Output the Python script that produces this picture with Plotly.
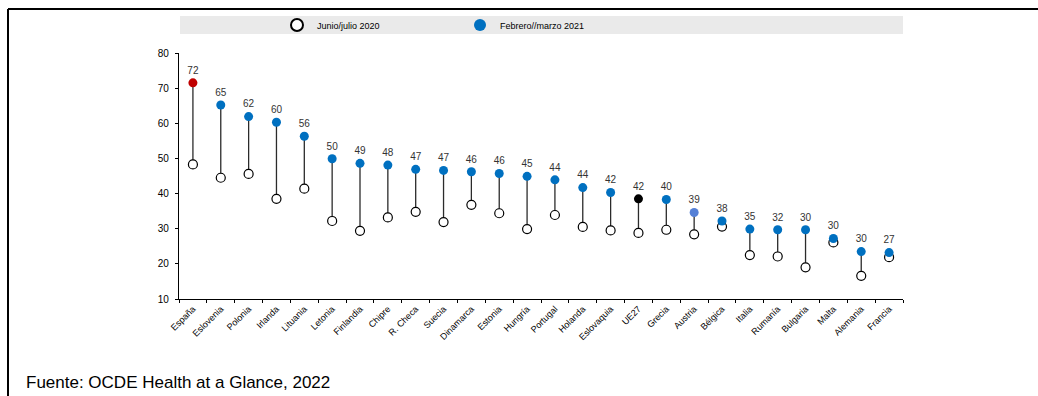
import plotly.graph_objects as go

countries = ["España", "Eslovenia", "Polonia", "Irlanda", "Lituania", "Letonia", "Finlandia",
             "Chipre", "R. Checa", "Suecia", "Dinamarca", "Estonia", "Hungría", "Portugal",
             "Holanda", "Eslovaquia", "UE27", "Grecia", "Austria", "Bélgica", "Italia",
             "Rumanía", "Bulgaria", "Malta", "Alemania", "Francia"]
jun_jul_2020 = [48.3, 44.5, 45.6, 38.5, 41.4, 32.2, 29.4, 33.2, 34.8, 31.9, 36.8, 34.4, 29.9,
                33.9, 30.5, 29.5, 28.8, 29.7, 28.4, 30.6, 22.5, 22.1, 19.0, 26.1, 16.6, 21.9]
feb_mar_2021 = [71.5, 65.2, 61.9, 60.3, 56.3, 49.9, 48.6, 48.1, 46.9, 46.6, 46.2, 45.7, 44.9,
                43.9, 41.7, 40.3, 38.5, 38.3, 34.6, 32.2, 29.9, 29.7, 29.7, 27.2, 23.5, 23.2]
value_labels = ["72", "65", "62", "60", "56", "50", "49", "48", "47", "47", "46", "46", "45",
                "44", "44", "42", "42", "40", "39", "38", "35", "32", "30", "30", "30", "27"]
y_ticks = [10, 20, 30, 40, 50, 60, 70, 80]
source_text = "Fuente: OCDE Health at a Glance, 2022"

BLUE = "#0070C0"
highlight = {"España": "#C00000", "UE27": "#000000", "Austria": "#5580D6"}
dot_colors = [highlight.get(c, BLUE) for c in countries]

FONT = "Liberation Sans Narrow, Arial Narrow, Liberation Sans, Arial, sans-serif"

# target geometry in page pixels (body margin removed in the page)
W, H = 1038, 396
L, R, T, B = 179, 903, 53, 299

def px_x(x):
    return (x - L) / (R - L)

def px_y(y):
    return (B - y) / (B - T)

def cont_y(y):
    return 1 - y / H

# connector lines
lx, ly = [], []
for c, a, b in zip(countries, jun_jul_2020, feb_mar_2021):
    lx += [c, c, None]
    ly += [a, b, None]

fig = go.Figure()
fig.add_trace(go.Scatter(x=lx, y=ly, mode="lines", line=dict(color="#2b2b2b", width=1.3),
                         showlegend=False, hoverinfo="skip"))
fig.add_trace(go.Scatter(x=countries, y=jun_jul_2020, mode="markers", name="Junio/julio 2020",
                         marker=dict(size=9, color="white", line=dict(color="black", width=1.2)),
                         showlegend=False))
fig.add_trace(go.Scatter(x=countries, y=feb_mar_2021, mode="markers+text", name="Febrero//marzo 2021",
                         marker=dict(size=9, color=dot_colors, line=dict(width=0)),
                         text=value_labels, textposition="top center",
                         textfont=dict(family=FONT, size=10, color="#333333"),
                         showlegend=False))
# legend entries
fig.add_trace(go.Scatter(x=[None], y=[None], mode="markers", name="Junio/julio 2020",
                         marker=dict(size=9, color="white", line=dict(color="black", width=1.2))))
fig.add_trace(go.Scatter(x=[None], y=[None], mode="markers", name="Febrero//marzo 2021",
                         marker=dict(size=9, color=BLUE, line=dict(width=0))))

fig.update_layout(
    width=W, height=H,
    margin=dict(l=L, r=W - R, t=T, b=H - B, pad=0, autoexpand=False),
    paper_bgcolor="white", plot_bgcolor="white",
    font=dict(family=FONT, size=10, color="black"),
    showlegend=True,
    legend=dict(orientation="h", x=px_x(277), xanchor="left",
                yref="container", y=cont_y(25), yanchor="middle",
                bgcolor="rgba(0,0,0,0)", entrywidth=138, entrywidthmode="pixels",
                font=dict(family=FONT, size=9, color="black"), itemsizing="constant",
                tracegroupgap=0),
    xaxis=dict(type="category", categoryorder="array", categoryarray=countries,
               range=[-0.5, len(countries) - 0.5],
               showline=True, linecolor="black", linewidth=1.3, mirror=False,
               ticks="outside", tickson="boundaries", ticklen=3, tickcolor="black",
               tickangle=-45, tickfont=dict(family=FONT, size=9, color="black"),
               showgrid=False, zeroline=False, fixedrange=True),
    yaxis=dict(range=[10, 80], tickvals=y_ticks, showline=True, linecolor="black", linewidth=1.3,
               ticks="outside", ticklen=3, tickcolor="black", ticklabelstandoff=4,
               tickfont=dict(family=FONT, size=10, color="black"),
               showgrid=False, zeroline=False, fixedrange=True),
    shapes=[
        dict(type="rect", xref="paper", yref="paper", x0=px_x(180), x1=px_x(903),
             y0=px_y(34), y1=px_y(16), fillcolor="#EAEAEA", line=dict(width=0), layer="below"),
        dict(type="line", xref="paper", yref="paper", x0=px_x(8), x1=px_x(1038),
             y0=px_y(9), y1=px_y(9), line=dict(color="black", width=2), layer="above"),
        dict(type="line", xref="paper", yref="paper", x0=px_x(8), x1=px_x(8),
             y0=px_y(9), y1=px_y(396), line=dict(color="black", width=2), layer="above"),
    ],
    annotations=[
        dict(text=source_text, xref="paper", yref="paper", x=px_x(24), y=px_y(382),
             xanchor="left", yanchor="middle", showarrow=False,
             font=dict(family="Liberation Sans, Arial, sans-serif", size=17, color="black")),
    ],
)

fig.write_html(
    "out.html",
    config={"displayModeBar": False},
    post_script="document.body.style.margin='0';document.body.style.padding='0';"
                "document.body.style.overflow='hidden';"
                "document.documentElement.style.overflow='hidden';",
)
